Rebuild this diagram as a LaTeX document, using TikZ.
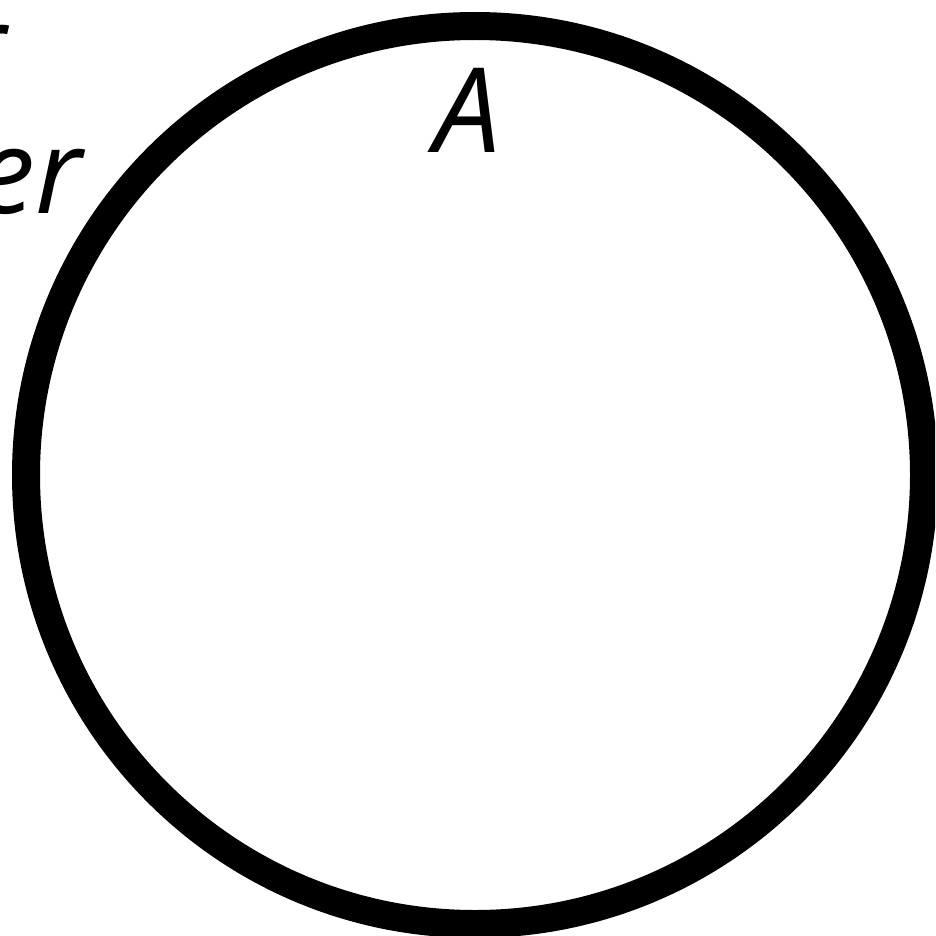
\documentclass[tikz,border=0pt]{standalone}
\usepackage{fontspec}
\setmainfont{Open Sans}
\begin{document}
\begin{tikzpicture}[x=1pt,y=-1pt,
  ring/.style={draw=black,line width=28pt},
  lbl/.style={inner sep=0pt,font=\fontsize{118}{120}\selectfont\itshape}]
\useasboundingbox (0,0) rectangle (935,936);
\clip (0,0) rectangle (935,936);
\fill[white] (0,0) rectangle (935,936);
\node[ring,circle,minimum size=898pt,inner sep=0pt] (c) at (475,475) {};
\node[lbl,anchor=base] (a) at (468,153) {A};
\node[lbl,anchor=base east] (t1) at (6,90) {r};
\node[lbl,anchor=base east] (t2) at (82,213) {er};
\end{tikzpicture}
\end{document}
